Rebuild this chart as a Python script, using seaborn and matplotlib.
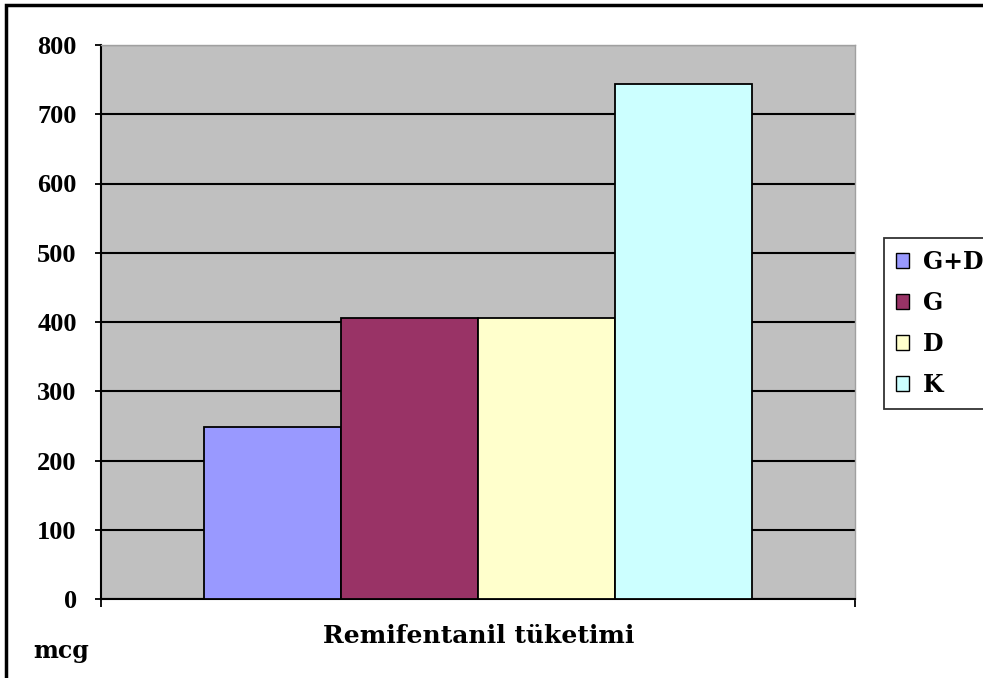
import matplotlib
matplotlib.use("Agg")
import matplotlib.pyplot as plt
import seaborn as sns
import pandas as pd
from matplotlib.patches import Patch, Rectangle

# Remifentanil consumption per study group (mcg)
groups = ["G+D", "G", "D", "K"]
consumption = [248, 406, 406, 744]
category = ["Remifentanil tüketimi"] * len(groups)
colors = ["#9999FF", "#993366", "#FFFFCC", "#CCFFFF"]
yticks = [0, 100, 200, 300, 400, 500, 600, 700, 800]

df = pd.DataFrame({"cat": category, "grup": groups, "mcg": consumption})

sns.set_theme(style="white")
plt.rcParams["font.family"] = ["DejaVu Serif"]
plt.rcParams["font.weight"] = "bold"
plt.rcParams["text.color"] = "black"
plt.rcParams["xtick.color"] = "black"
plt.rcParams["ytick.color"] = "black"

TICK_FONT = {"family": ["Liberation Serif", "DejaVu Serif"], "weight": "bold", "size": 19}

fig = plt.figure(figsize=(9.83, 6.78), dpi=100)
ax = fig.add_axes([101 / 983, 1 - 599 / 678, (855 - 101) / 983, (599 - 45) / 678])
ax.set_facecolor("#C0C0C0")

sns.barplot(data=df, x="cat", y="mcg", hue="grup", hue_order=groups,
            palette=colors, width=0.726, edgecolor="black", linewidth=1.3,
            saturation=1, legend=False, ax=ax, zorder=3)

ax.set_ylim(0, 800)
ax.set_xlim(-0.5, 0.5)
ax.set_yticks(yticks)
ax.set_yticklabels([str(v) for v in yticks], fontdict=TICK_FONT)
ax.yaxis.grid(True, color="black", linewidth=1.5, zorder=1)
ax.set_axisbelow(True)

ax.set_xticks([-0.5, 0.5])
ax.set_xticklabels(["", ""])
ax.tick_params(axis="x", direction="out", length=6, width=1.3, color="black", bottom=True)
ax.tick_params(axis="y", direction="out", length=4.5, width=1.3, color="black", left=True, pad=13)
ax.set_xlabel("")
ax.set_ylabel("")

for side in ["left", "bottom"]:
    ax.spines[side].set_color("black")
    ax.spines[side].set_linewidth(1.5)
for side in ["top", "right"]:
    ax.spines[side].set_color("#A0A0A0")
    ax.spines[side].set_linewidth(1.0)

fig.text(479 / 983, 1 - 636 / 678, "Remifentanil tüketimi", ha="center", va="center",
         fontsize=18, fontweight="bold", color="black")
fig.text(33 / 983, 1 - 651 / 678, "mcg", ha="left", va="center",
         fontsize=17, fontweight="bold", color="black")

handles = [Patch(facecolor=c, edgecolor="black", linewidth=1.0) for c in colors]
leg = fig.legend(handles, groups, loc="upper left",
                 bbox_to_anchor=(884 / 983, 1 - 238 / 678),
                 frameon=True, fancybox=False, edgecolor="black",
                 handlelength=0.55, handleheight=0.55, handletextpad=0.6,
                 labelspacing=0.72, borderpad=0.5, borderaxespad=0,
                 prop={"weight": "bold", "size": 17})
leg.get_frame().set_linewidth(1.3)

# outer chart border
fig.add_artist(Rectangle((6 / 983, -0.05), 1.2, 1 - 5 / 678 + 0.05,
                         transform=fig.transFigure, fill=False,
                         edgecolor="black", linewidth=2.5, clip_on=False))

fig.savefig("out.png", dpi=100, facecolor="white")
